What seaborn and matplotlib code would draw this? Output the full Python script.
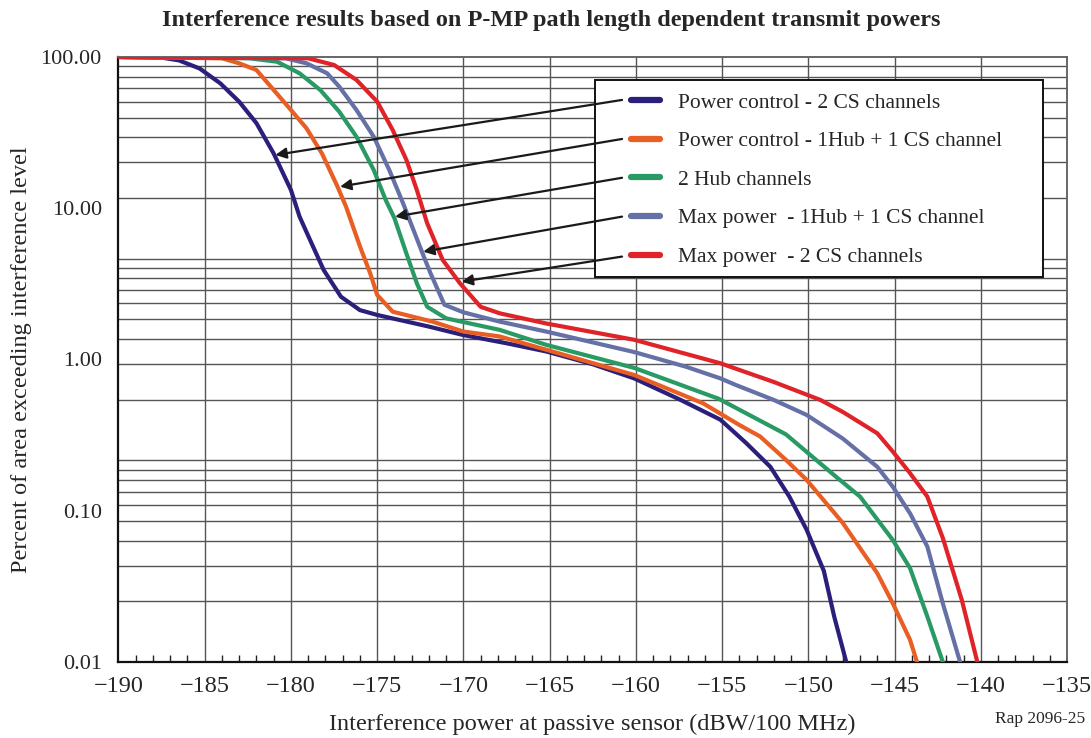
import numpy as np
import pandas as pd
import matplotlib
matplotlib.use("Agg")
import matplotlib.pyplot as plt
from matplotlib.lines import Line2D
from matplotlib.patches import Rectangle
from matplotlib.ticker import FixedLocator, MultipleLocator, NullFormatter
import seaborn as sns

# ---- data: interference power (dBW/100 MHz) vs % of area exceeding level ----
pc_2cs_x = [-190, -187.5, -186.5, -185.3, -184.1, -183.0, -182.0, -181.0, -180.0, -179.5,
            -178.9, -178.1, -177.1, -176.0, -175.0, -172.0, -170.0, -167.5, -165.2, -162.5,
            -160.1, -157.4, -155.1, -153.6, -152.2, -151.1, -150.1, -149.1, -148.5, -147.8]
pc_2cs_y = [100, 99, 95, 84, 67, 50.6, 36.5, 23, 13.2, 8.8,
            6.2, 3.9, 2.6, 2.12, 1.97, 1.65, 1.45, 1.28, 1.13, 0.93,
            0.75, 0.54, 0.40, 0.28, 0.195, 0.124, 0.075, 0.040, 0.020, 0.01]

pc_hub_cs_x = [-190, -184.0, -183.0, -182.0, -181.0, -180.0, -179.1, -178.2, -177.3, -176.8,
               -176.0, -175.4, -175.0, -174.1, -171.8, -170.0, -167.9, -165.2, -160.1, -156.1,
               -154.0, -152.8, -151.3, -150.1, -148.0, -146.0, -145.1, -144.1, -143.7]
pc_hub_cs_y = [100, 98, 90.8, 82, 60.5, 44.6, 33.8, 23, 13.9, 10.2,
               5.6, 3.7, 2.67, 2.07, 1.78, 1.53, 1.42, 1.16, 0.79, 0.513,
               0.369, 0.31, 0.217, 0.16, 0.083, 0.0386, 0.0244, 0.014, 0.01]

hub2_x = [-190, -182.4, -180.8, -179.5, -178.3, -177.2, -176.2, -175.2, -174.5, -174.0,
          -173.3, -172.7, -172.1, -171.0, -167.9, -165.2, -160.1, -155.2, -151.3, -148.4,
          -147.0, -145.1, -144.1, -143.1, -142.2]
hub2_y = [100, 98, 93, 78, 60.5, 43.5, 29.7, 17.9, 11.3, 8.6,
          5.0, 3.19, 2.23, 1.87, 1.57, 1.25, 0.88, 0.55, 0.32, 0.168,
          0.124, 0.064, 0.0417, 0.02, 0.01]

mp_hub_cs_x = [-190, -180.3, -179.1, -177.9, -177.2, -176.2, -175.2, -174.3, -173.5, -172.9,
               -172.3, -171.9, -171.1, -170.0, -167.9, -165.2, -160.1, -157.1, -155.1, -154.2,
               -152.0, -150.1, -148.0, -146.0, -145.1, -144.1, -143.1, -142.2, -141.2]
mp_hub_cs_y = [100, 98, 90.8, 78, 63.7, 44.6, 29.7, 17.9, 10.8, 7.2,
               4.8, 3.7, 2.3, 2.05, 1.78, 1.53, 1.12, 0.896, 0.75, 0.678,
               0.54, 0.43, 0.30, 0.195, 0.144, 0.096, 0.058, 0.0244, 0.01]

mp_2cs_x = [-190, -179.0, -177.5, -176.2, -175.0, -174.1, -173.3, -172.7, -172.1, -171.2,
            -170.2, -169.0, -167.9, -165.2, -160.1, -155.1, -152.0, -149.3, -148.0, -146.0,
            -145.1, -144.1, -143.1, -142.2, -141.1, -140.2]
mp_2cs_y = [100, 98, 88.5, 70.5, 50.7, 32.9, 20.8, 13.2, 7.95, 4.55,
            3.19, 2.23, 2.02, 1.73, 1.35, 0.944, 0.71, 0.54, 0.45, 0.325,
            0.246, 0.177, 0.124, 0.066, 0.0257, 0.01]

series_names = ["Power control - 2 CS channels",
                "Power control - 1Hub + 1 CS channel",
                "2 Hub channels",
                "Max power  - 1Hub + 1 CS channel",
                "Max power  - 2 CS channels"]
series_colors = ["#2a1f7a", "#e95e22", "#2a9a64", "#6570a6", "#e02328"]

# arrow heads on each curve (x dBW, y %), tails start at the legend samples
arrow_head_x = [-180.9, -177.15, -173.96, -172.33, -170.1]
arrow_head_y = [22.5, 13.9, 8.8, 5.16, 3.27]
arrow_tail_x = -160.8
arrow_tail_y = [52.0, 28.7, 15.9, 8.8, 4.79]

x_tick_values = list(range(-190, -134, 5))
x_tick_labels = [f"\u2212{abs(v)}" for v in x_tick_values]
y_tick_values = [100, 10, 1, 0.1, 0.01]
y_tick_labels = ["100.00", "10.00", "1.00", "0.10", "0.01"]

frames = []
for name, xs, ys in zip(series_names,
                        [pc_2cs_x, pc_hub_cs_x, hub2_x, mp_hub_cs_x, mp_2cs_x],
                        [pc_2cs_y, pc_hub_cs_y, hub2_y, mp_hub_cs_y, mp_2cs_y]):
    frames.append(pd.DataFrame({"power": xs, "percent": ys, "series": name}))
df = pd.concat(frames, ignore_index=True)

# ---- styling ----
sns.set_style("white")
plt.rcParams["font.family"] = ["Liberation Serif", "DejaVu Serif"]

fig = plt.figure(figsize=(10.91, 7.38), dpi=100)
ax = fig.add_axes([0.1086, 0.103, 0.8694, 0.8198])

ax.set_yscale("log")
ax.set_xlim(-190, -135)
ax.set_ylim(0.01, 100)

# background grid: 3-cycle logarithmic ruling spread over the plot height
grid_vals = []
for k in range(3):
    for m in range(1, 10):
        f = (k + 1 - np.log10(m)) / 3.0
        if 0 < f < 1:
            grid_vals.append(10 ** (2 - 4 * f))
for gv in grid_vals:
    ax.axhline(gv, color="#555555", lw=1.0, zorder=1)
for gx in x_tick_values[1:-1]:
    ax.axvline(gx, color="#555555", lw=1.0, zorder=1)

sns.lineplot(data=df, x="power", y="percent", hue="series", hue_order=series_names,
             palette=series_colors, sort=False, estimator=None, lw=3.0,
             legend=False, ax=ax, zorder=3)

# axes decoration
ax.yaxis.set_major_locator(FixedLocator(y_tick_values))
ax.set_yticklabels(y_tick_labels)
ax.yaxis.set_minor_formatter(NullFormatter())
ax.tick_params(axis="y", which="both", left=False, length=0, labelsize=16, pad=12)
ax.set_xticks(x_tick_values, x_tick_labels)
ax.set_xlim(-190, -135)
ax.xaxis.set_minor_locator(MultipleLocator(1))
ax.tick_params(axis="x", which="major", bottom=True, length=0, labelsize=17.5, pad=10)
ax.tick_params(axis="x", which="minor", bottom=True, direction="in", length=5,
               width=1.0, color="#222222")

for side in ["left", "bottom"]:
    ax.spines[side].set_color("#111111")
    ax.spines[side].set_linewidth(1.6)
for side in ["top", "right"]:
    ax.spines[side].set_color("#666666")
    ax.spines[side].set_linewidth(1.4)

ax.set_xlabel("Interference power at passive sensor (dBW/100 MHz)", fontsize=17.5, labelpad=12)
ax.set_ylabel("Percent of area exceeding interference level", fontsize=17.5, labelpad=6)

fig.suptitle("Interference results based on P-MP path length dependent transmit powers",
             x=0.505, y=0.986, fontsize=17.5, fontweight="bold")
fig.text(0.995, 0.015, "Rap 2096-25", ha="right", va="bottom", fontsize=12.5)

# legend box and entries
ax.add_patch(Rectangle((0.5024, 0.6364), 0.4723, 0.3256, transform=ax.transAxes,
                       facecolor="white", edgecolor="#111111", lw=1.4, zorder=5))
handles = [Line2D([0], [0], color=c, lw=4.5) for c in series_colors]
leg = ax.legend(handles, series_names, loc="upper left", bbox_to_anchor=(0.540, 0.941),
                frameon=False, fontsize=15.5, handlelength=1.35, handletextpad=0.85,
                labelspacing=0.86, borderpad=0.0, borderaxespad=0.0)
leg.set_zorder(6)

for hx, hy, ty in zip(arrow_head_x, arrow_head_y, arrow_tail_y):
    ax.annotate("", xy=(hx, hy), xytext=(arrow_tail_x, ty),
                arrowprops=dict(arrowstyle="-|>", color="#1a1a1a", lw=1.6,
                                mutation_scale=16, shrinkA=0, shrinkB=0),
                zorder=7)

fig.savefig("out.png", dpi=100)
